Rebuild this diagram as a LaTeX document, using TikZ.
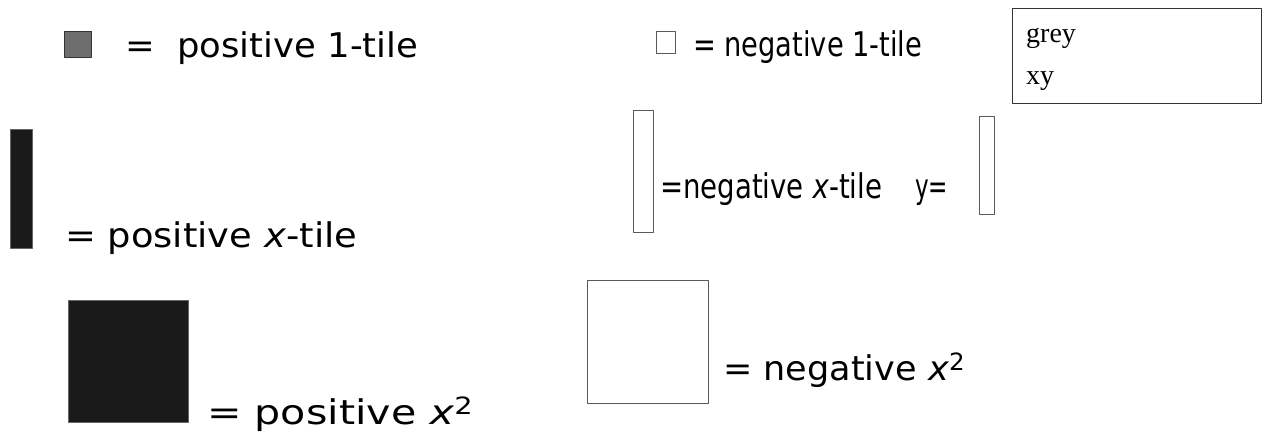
\documentclass[tikz,border=0pt]{standalone}
\usepackage{fontspec}
\usepackage{graphicx}
\usetikzlibrary{positioning}
\newfontfamily\tilefont{DejaVu Sans}
\newfontfamily\notefont{Liberation Serif}
\definecolor{tileInk}{HTML}{1A1A1A}
\definecolor{tileGrey}{HTML}{6E6E6E}
\definecolor{tileEdge}{HTML}{5A5A5A}
\newcommand\fitlabel[2]{\resizebox{#1}{\height}{#2}}

\begin{document}
\begin{tikzpicture}[x=1pt,y=-1pt,line cap=round,line join=round]
\useasboundingbox (0,0) rectangle (1262,432);
\path[fill=white] (0,0) rectangle (1262,432);
\tikzset{postile/.style={fill=tileInk,draw=black!60,line width=0.6pt,inner sep=0pt,anchor=north west},onetile/.style={fill=tileGrey,draw=black!80,line width=0.8pt,inner sep=0pt,anchor=north west},negtile/.style={fill=white,draw=tileEdge,line width=0.8pt,inner sep=0pt,anchor=north west},poslbl/.style={anchor=base west,inner sep=0pt,font=\tilefont\fontsize{34}{40}\selectfont},neglbl/.style={anchor=base west,inner sep=0pt,font=\tilefont\fontsize{34}{40}\selectfont},notelbl/.style={anchor=base west,inner sep=0pt,font=\notefont\fontsize{28}{32}\selectfont}}
% tiles
\node[onetile,minimum width=27pt,minimum height=26pt] (pone) at (64,31) {};
\node[negtile,minimum width=19pt,minimum height=22pt] (none) at (656,31) {};
\node[postile,minimum width=22pt,minimum height=119pt] (pxtile) at (10,129) {};
\node[negtile,minimum width=20pt,minimum height=122pt] (nxtile) at (633,110) {};
\node[negtile,minimum width=15pt,minimum height=98pt] (ytile) at (979,116) {};
\node[postile,minimum width=120pt,minimum height=122pt] (pxsq) at (68,300) {};
\node[negtile,minimum width=121pt,minimum height=123pt] (nxsq) at (587,280) {};
% labels
\node[poslbl] (lpone) at (125,57) {\fitlabel{293pt}{=\ \ positive 1-tile}};
\node[neglbl] (lnone) at (693,56) {\fitlabel{229pt}{= negative 1-tile}};
\node[poslbl] (lpx) at (65,247) {\fitlabel{292pt}{= positive \textit{x}-tile}};
\node[neglbl] (lnx) at (660,198) {\fitlabel{222pt}{=negative \textit{x}-tile}};
\node[neglbl] (ly) at (915,198) {\fitlabel{33pt}{y=}};
\node[poslbl] (lpsq) at (207,424) {\fitlabel{266pt}{= positive \textit{x}\textsuperscript{2}}};
\node[neglbl] (lnsq) at (723,380) {\fitlabel{242pt}{= negative \textit{x}\textsuperscript{2}}};
% key box
\node[draw=black!80,line width=0.9pt,minimum width=249pt,minimum height=95pt,inner sep=0pt,anchor=north west] (keybox) at (1012,8) {};
\node[notelbl] (keygrey) at (1026,42) {grey};
\node[notelbl] (keyxy) at (1026,84) {xy};
\end{tikzpicture}
\end{document}
